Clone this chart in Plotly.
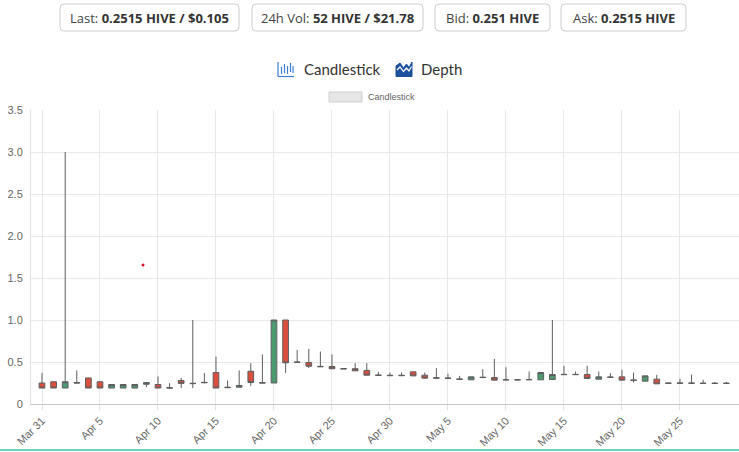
import plotly.graph_objects as go
from datetime import datetime, timedelta

# ---------------- data ----------------
dates = [(datetime(2020, 3, 31) + timedelta(days=i)).strftime("%Y-%m-%d") for i in range(60)]

opens = [0.25, 0.265, 0.19, 0.255, 0.31, 0.265, 0.19, 0.19, 0.19, 0.235,
         0.232, 0.195, 0.28, 0.247, 0.258, 0.375, 0.20, 0.20, 0.39, 0.254,
         0.25, 1.0, 0.50, 0.494, 0.448, 0.446, 0.422, 0.42, 0.40, 0.345,
         0.342, 0.342, 0.383, 0.343, 0.312, 0.31, 0.298, 0.288, 0.319, 0.315,
         0.29, 0.29, 0.292, 0.288, 0.292, 0.353, 0.353, 0.351, 0.296, 0.321,
         0.323, 0.286, 0.272, 0.296, 0.25, 0.25, 0.25, 0.248, 0.248, 0.248]
highs = [0.37, 0.265, 3.0, 0.40, 0.31, 0.265, 0.232, 0.232, 0.232, 0.258,
         0.327, 0.248, 0.31, 1.0, 0.37, 0.565, 0.28, 0.40, 0.486, 0.59,
         1.0, 1.0, 0.645, 0.657, 0.625, 0.59, 0.422, 0.486, 0.486, 0.383,
         0.375, 0.375, 0.383, 0.375, 0.427, 0.36, 0.335, 0.323, 0.414, 0.538,
         0.438, 0.29, 0.387, 0.375, 1.0, 0.454, 0.387, 0.454, 0.387, 0.367,
         0.407, 0.375, 0.335, 0.347, 0.25, 0.30, 0.351, 0.288, 0.26, 0.262]
lows = [0.19, 0.19, 0.19, 0.25, 0.19, 0.19, 0.19, 0.19, 0.19, 0.20,
        0.19, 0.19, 0.19, 0.19, 0.254, 0.19, 0.19, 0.20, 0.216, 0.25,
        0.25, 0.37, 0.497, 0.427, 0.444, 0.42, 0.418, 0.395, 0.343, 0.341,
        0.338, 0.338, 0.335, 0.30, 0.308, 0.306, 0.294, 0.288, 0.315, 0.284,
        0.287, 0.287, 0.289, 0.288, 0.292, 0.35, 0.35, 0.304, 0.296, 0.318,
        0.284, 0.256, 0.272, 0.24, 0.247, 0.247, 0.247, 0.245, 0.245, 0.245]
closes = [0.19, 0.19, 0.265, 0.25, 0.19, 0.19, 0.232, 0.232, 0.232, 0.255,
          0.19, 0.19, 0.245, 0.243, 0.254, 0.19, 0.195, 0.22, 0.256, 0.25,
          1.0, 0.49, 0.497, 0.45, 0.444, 0.42, 0.418, 0.395, 0.343, 0.341,
          0.338, 0.338, 0.335, 0.308, 0.308, 0.306, 0.294, 0.323, 0.315, 0.284,
          0.287, 0.287, 0.289, 0.375, 0.351, 0.35, 0.35, 0.304, 0.323, 0.318,
          0.284, 0.282, 0.335, 0.24, 0.247, 0.247, 0.247, 0.245, 0.245, 0.245]

# stray point visible in the chart
dot_x = ["2020-04-08 17:00"]
dot_y = [1.655]

x_tick_vals = ["2020-03-31", "2020-04-05", "2020-04-10", "2020-04-15", "2020-04-20",
               "2020-04-25", "2020-04-30", "2020-05-05", "2020-05-10", "2020-05-15",
               "2020-05-20", "2020-05-25"]
x_tick_text = ["Mar 31", "Apr 5", "Apr 10", "Apr 15", "Apr 20", "Apr 25", "Apr 30",
               "May 5", "May 10", "May 15", "May 20", "May 25"]
y_tick_vals = [0, 0.5, 1.0, 1.5, 2.0, 2.5, 3.0, 3.5]
y_tick_text = ["0", "0.5", "1.0", "1.5", "2.0", "2.5", "3.0", "3.5"]

stats_labels = ["Last: ", "24h Vol: ", "Bid: ", "Ask: "]
stats_values = ["0.2515 HIVE / $0.105", "52 HIVE / $21.78", "0.251 HIVE", "0.2515 HIVE"]
tab_labels = ["Candlestick", "Depth"]
legend_label = "Candlestick"

# ---------------- layout helpers ----------------
W, H = 739, 452
L, R, T, B = 31, 0, 110, 48
PW, PH = W - L - R, H - T - B


def px(X):
    return (X - L) / PW


def py(Y):
    return (H - B - Y) / PH


RED = "#db4f3e"
GREEN = "#4c9a70"

fig = go.Figure()
fig.add_trace(go.Candlestick(
    x=dates, open=opens, high=highs, low=lows, close=closes,
    increasing=dict(fillcolor=GREEN, line=dict(color="#5e5e5e", width=1)),
    decreasing=dict(fillcolor=RED, line=dict(color="#5e5e5e", width=1)),
    whiskerwidth=0, showlegend=False, hoverinfo="skip", name="Candlestick",
))
fig.add_trace(go.Scatter(x=dot_x, y=dot_y, mode="markers",
                         marker=dict(color="#e0102a", size=3), showlegend=False,
                         hoverinfo="skip"))

shapes = []
annotations = []

# stat boxes
box_edges = [(60, 239), (252, 423), (435, 550), (561, 686)]
for (x0, x1), lab, val in zip(box_edges, stats_labels, stats_values):
    r = 4
    y0, y1 = 4, 31
    path = (f"M {px(x0 + r)},{py(y0)} L {px(x1 - r)},{py(y0)} "
            f"Q {px(x1)},{py(y0)} {px(x1)},{py(y0 + r)} L {px(x1)},{py(y1 - r)} "
            f"Q {px(x1)},{py(y1)} {px(x1 - r)},{py(y1)} L {px(x0 + r)},{py(y1)} "
            f"Q {px(x0)},{py(y1)} {px(x0)},{py(y1 - r)} L {px(x0)},{py(y0 + r)} "
            f"Q {px(x0)},{py(y0)} {px(x0 + r)},{py(y0)} Z")
    shapes.append(dict(type="path", xref="paper", yref="paper", path=path,
                       line=dict(color="#cccccc", width=1), fillcolor="white", layer="above"))
    annotations.append(dict(xref="paper", yref="paper", x=px((x0 + x1) / 2), y=py(17.5),
                            xanchor="center", yanchor="middle", showarrow=False,
                            text=f"<span style='color:#444'>{lab}</span><b>{val}</b>",
                            font=dict(family="Open Sans", size=13, color="#333333")))

# candlestick tab icon
ic = "#3d7fd6"
shapes.append(dict(type="line", xref="paper", yref="paper", x0=px(278), x1=px(278),
                   y0=py(62), y1=py(76.5), line=dict(color=ic, width=1.2)))
shapes.append(dict(type="line", xref="paper", yref="paper", x0=px(278), x1=px(294),
                   y0=py(76.5), y1=py(76.5), line=dict(color=ic, width=1.2)))
for bx, ytop, ybot in [(281.5, 67, 74), (284.5, 64, 73), (287.5, 66, 74), (290.5, 63, 72), (293, 66, 73)]:
    shapes.append(dict(type="line", xref="paper", yref="paper", x0=px(bx), x1=px(bx),
                       y0=py(ytop), y1=py(ybot), line=dict(color=ic, width=1.2)))
annotations.append(dict(xref="paper", yref="paper", x=px(302), y=py(69), xanchor="left",
                        yanchor="middle", showarrow=False, text=tab_labels[0],
                        font=dict(family="Lato", size=15, color="#333333")))

# depth tab icon
dc = "#1c4f9c"
dpath = (f"M {px(396)},{py(76.5)} L {px(396)},{py(66)} L {px(400)},{py(63)} L {px(403.5)},{py(68)} "
         f"L {px(406.5)},{py(64)} L {px(409)},{py(67.5)} L {px(412)},{py(62)} L {px(412)},{py(76.5)} Z")
shapes.append(dict(type="path", xref="paper", yref="paper", path=dpath,
                   fillcolor=dc, line=dict(color=dc, width=1)))
wpath = (f"M {px(397)},{py(70)} L {px(400)},{py(67)} L {px(403.5)},{py(71.5)} "
         f"L {px(406.5)},{py(68)} L {px(409)},{py(71)} L {px(411.5)},{py(66.5)}")
shapes.append(dict(type="path", xref="paper", yref="paper", path=wpath,
                   line=dict(color="white", width=1.2)))
annotations.append(dict(xref="paper", yref="paper", x=px(419), y=py(69), xanchor="left",
                        yanchor="middle", showarrow=False, text=tab_labels[1],
                        font=dict(family="Lato", size=15, color="#333333")))

# chart legend
shapes.append(dict(type="rect", xref="paper", yref="paper", x0=px(329), x1=px(362),
                   y0=py(92), y1=py(102), fillcolor="#e6e6e6",
                   line=dict(color="#cfcfcf", width=1)))
annotations.append(dict(xref="paper", yref="paper", x=px(366), y=py(97), xanchor="left",
                        yanchor="middle", showarrow=False, text=legend_label,
                        font=dict(family="Liberation Sans", size=9, color="#666666")))

# bottom teal border
shapes.append(dict(type="line", xref="paper", yref="paper", x0=0 - L / PW, x1=1 + R / PW + 0.01,
                   y0=py(450), y1=py(450), line=dict(color="#6dd3c0", width=2)))

fig.update_layout(
    width=W, height=H,
    margin=dict(l=L, r=R, t=T, b=B, pad=0),
    paper_bgcolor="white", plot_bgcolor="white",
    shapes=shapes, annotations=annotations,
    showlegend=False,
    xaxis=dict(
        type="date",
        range=["2020-03-30 01:15", "2020-05-30 02:10"],
        rangeslider=dict(visible=False),
        tickvals=x_tick_vals, ticktext=x_tick_text, tickangle=-45,
        tickfont=dict(family="Liberation Sans", size=11, color="#666666"),
        showgrid=True, gridcolor="#e8e8e8", gridwidth=1,
        showline=True, linecolor="#c8c8c8", linewidth=1,
        ticks="outside", ticklen=5, tickcolor="#e0e0e0",
        zeroline=False,
    ),
    yaxis=dict(
        range=[0, 3.5],
        tickvals=y_tick_vals, ticktext=y_tick_text,
        tickfont=dict(family="Liberation Sans", size=11, color="#666666"),
        showgrid=True, gridcolor="#e8e8e8", gridwidth=1,
        showline=True, linecolor="#e0e0e0", linewidth=1,
        zeroline=False, ticks="", ticklabelstandoff=5,
    ),
)

fig.write_html("out.html", config={"displayModeBar": False},
               post_script="document.body.style.margin='0';")
